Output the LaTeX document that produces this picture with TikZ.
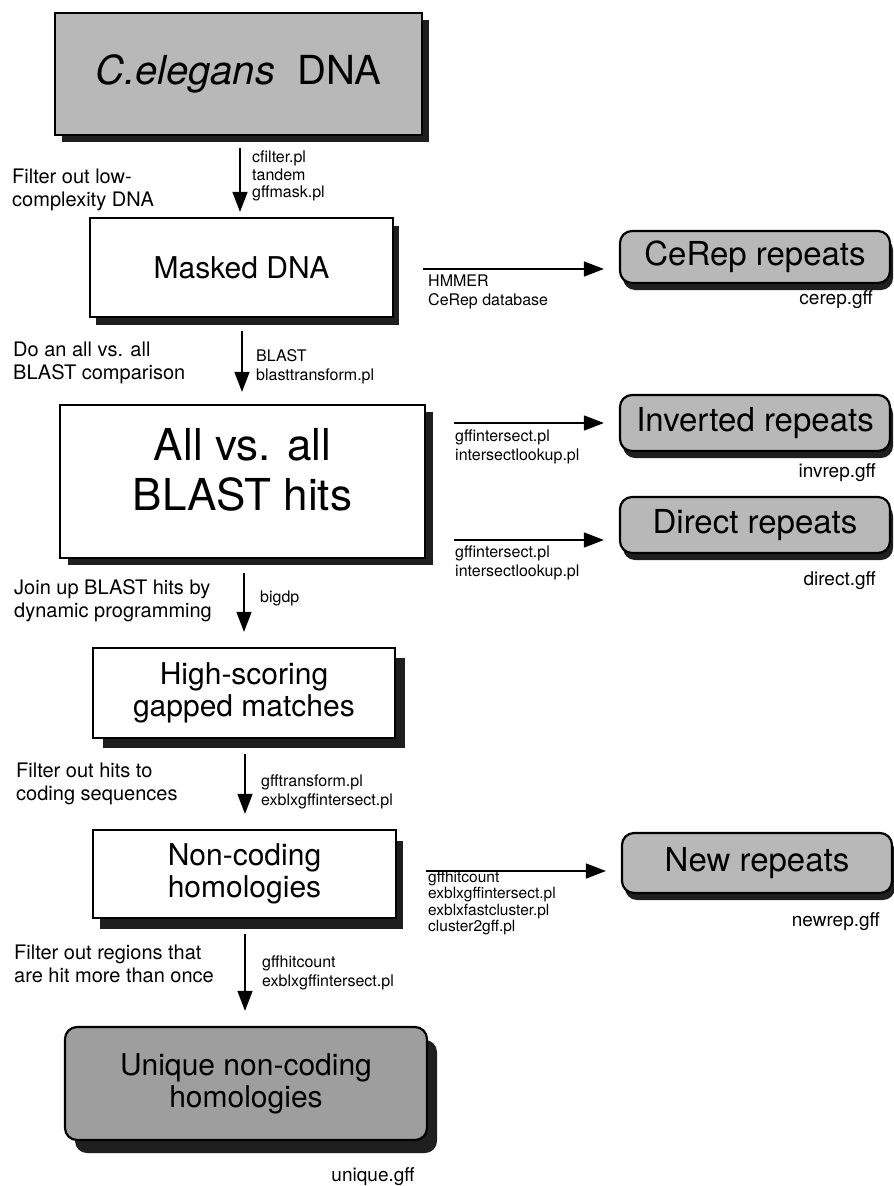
\documentclass[tikz,border=0pt]{standalone}
\usepackage{fontspec}
\setmainfont{TeX Gyre Heros}
\usetikzlibrary{arrows.meta,shadows}
\begin{document}
\begin{tikzpicture}[x=1pt,y=-1pt,
  sh/.style 2 args={drop shadow={shadow xshift=#1, shadow yshift=#2, fill=black!88, opacity=1}},
  box/.style={draw=black, line width=2.2pt, fill=white, inner sep=0pt, align=center},
  gbox/.style={box, fill=black!28},
  rbox/.style={gbox, rounded corners=12pt},
  arr/.style={line width=1.5pt, -{Triangle[length=20pt,width=15pt]}},
  tool/.style={anchor=west, align=left, font=\fontsize{16}{19.5}\selectfont, inner sep=0pt},
  tools/.style={anchor=west, align=left, font=\fontsize{15.5}{16.5}\selectfont, inner sep=0pt},
  desc/.style={anchor=west, align=left, font=\fontsize{20}{23}\selectfont, inner sep=0pt},
  gff/.style={anchor=east, font=\fontsize{19}{22}\selectfont, inner sep=0pt},
  big/.style={font=\fontsize{30}{32}\selectfont},
  rep/.style={font=\fontsize{33}{35}\selectfont},
]
\useasboundingbox (0,0) rectangle (894,1186);
% main column boxes
\node[gbox, sh={7pt}{-7pt}, minimum width=367pt, minimum height=122pt, font=\fontsize{40}{40}\selectfont] (dna) at (238.5,74) {\textit{C.elegans}\ \ DNA};
\node[box, sh={6pt}{-8pt}, minimum width=303pt, minimum height=99pt, big] (masked) at (241.5,267.5) {Masked DNA};
\node[box, sh={8pt}{-7pt}, minimum width=365pt, minimum height=153pt] (allvs) at (242.5,481.5) {};
\node[align=center, inner sep=0pt, font=\fontsize{44}{50}\selectfont] (allvst) at (242.5,470) {All vs. all\\BLAST hits};
\node[box, sh={10pt}{-10pt}, minimum width=302pt, minimum height=90pt, big] (hsgm) at (244,693) {High-scoring\\gapped matches};
\node[box, sh={7pt}{-11pt}, minimum width=303pt, minimum height=88pt, big] (noncod) at (244.5,874) {Non-coding\\homologies};
\node[rbox, fill=black!38, sh={10pt}{-13pt}, minimum width=362pt, minimum height=113pt, big] (unique) at (246,1083.5) {Unique non-coding\\homologies};
% right boxes
\node[rbox, sh={3pt}{-7pt}, minimum width=270pt, minimum height=52pt, rep] (cerep) at (755,257) {CeRep repeats};
\node[rbox, sh={3pt}{-7pt}, minimum width=270pt, minimum height=56pt, rep] (inv) at (755,423) {Inverted repeats};
\node[rbox, sh={3pt}{-7pt}, minimum width=270pt, minimum height=56pt, rep] (direct) at (755,525) {Direct repeats};
\node[rbox, sh={3pt}{-7pt}, minimum width=270pt, minimum height=60pt, rep] (newrep) at (757,863) {New repeats};
% file names
\node[gff] (fcerep) at (873,300) {cerep.gff};
\node[gff] (finv) at (876,473) {invrep.gff};
\node[gff] (fdirect) at (876,581) {direct.gff};
\node[gff] (fnew) at (880,922) {newrep.gff};
\node[font=\fontsize{19}{22}\selectfont, inner sep=0pt] (funique) at (373,1177) {unique.gff};
% helper coordinates
\coordinate (ax1) at (240,0);
\coordinate (ax2) at (242,0);
\coordinate (ax3) at (244,0);
\coordinate (ax4) at (245,0);
\coordinate (hy1) at (0,269);
\coordinate (hy2) at (0,423);
\coordinate (hy3) at (0,540);
\coordinate (hy4) at (0,871);
% vertical arrows
\draw[arr, shorten <=12pt, shorten >=5pt] (dna.south -| ax1) -- (masked.north -| ax1);
\draw[arr, shorten <=13pt, shorten >=12pt] (masked.south -| ax2) -- (allvs.north -| ax2);
\draw[arr, shorten <=14pt, shorten >=15pt] (allvs.south -| ax3) -- (hsgm.north -| ax3);
\draw[arr, shorten <=15pt, shorten >=15pt] (hsgm.south -| ax4) -- (noncod.north -| ax4);
\draw[arr, shorten <=15pt, shorten >=15pt] (noncod.south -| ax4) -- (unique.north -| ax4);
% horizontal arrows
\draw[arr, shorten <=29pt, shorten >=15pt] (masked.east |- hy1) -- (cerep.west |- hy1);
\draw[arr, shorten <=28pt, shorten >=15pt] (allvs.east |- hy2) -- (inv.west |- hy2);
\draw[arr, shorten <=28pt, shorten >=15pt] (allvs.east |- hy3) -- (direct.west |- hy3);
\draw[arr, shorten <=29pt, shorten >=15pt] (noncod.east |- hy4) -- (newrep.west |- hy4);
% tool labels
\node[tool, font=\fontsize{16}{17.5}\selectfont] (t1) at (252,176) {cfilter.pl\\tandem\\gffmask.pl};
\node[tool] (t2) at (256,367) {BLAST\\blasttransform.pl};
\node[tool] (t3) at (260,598) {bigdp};
\node[tool] (t4) at (261,792) {gfftransform.pl\\exblxgffintersect.pl};
\node[tool] (t5) at (262,973) {gffhitcount\\exblxgffintersect.pl};
\node[tool] (t6) at (428,292) {HMMER\\CeRep database};
\node[tool] (t7) at (455,447) {gffintersect.pl\\intersectlookup.pl};
\node[tool] (t8) at (455,563) {gffintersect.pl\\intersectlookup.pl};
\node[tools] (t9) at (428,903) {gffhitcount\\exblxgffintersect.pl\\exblxfastcluster.pl\\cluster2gff.pl};
% descriptions
\node[desc] (d1) at (12,190) {Filter out low-\\complexity DNA};
\node[desc] (d2) at (13,363) {Do an all vs. all\\BLAST comparison};
\node[desc] (d3) at (14,601) {Join up BLAST hits by\\dynamic programming};
\node[desc] (d4) at (16,784) {Filter out hits to\\coding sequences};
\node[desc] (d5) at (14,964) {Filter out regions that\\are hit more than once};
\end{tikzpicture}
\end{document}
